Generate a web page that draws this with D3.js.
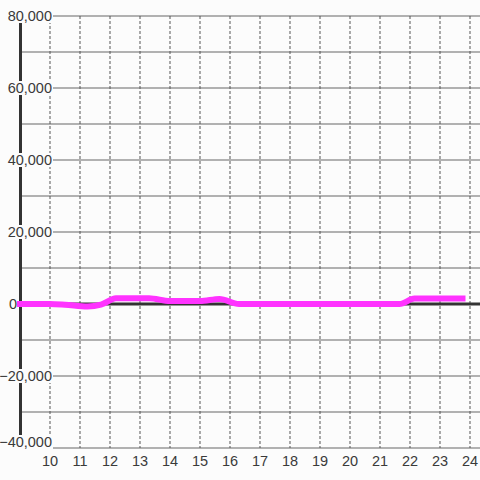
<!DOCTYPE html>
<html>
<head>
<meta charset="utf-8">
<script src="https://cdn.jsdelivr.net/npm/d3@7"></script>
<style>
  html, body { margin: 0; padding: 0; background: #fcfcfc; }
  svg { display: block; }
</style>
</head>
<body>
<svg id="chart" width="480" height="480"></svg>
<script>
// Data
const hours = [9, 10, 10.5, 11.25, 11.7, 12.2, 13.3, 14, 15, 15.65, 16.3, 21.65, 22.15, 23.75];
const values = [0, 0, -200, -700, -200, 1600, 1600, 800, 800, 1400, 0, 0, 1500, 1500];
const yTicks = [80000, 70000, 60000, 50000, 40000, 30000, 20000, 10000, 0, -10000, -20000, -30000, -40000];
const yLabels = [80000, 60000, 40000, 20000, 0, -20000, -40000];
const xTicks = [10, 11, 12, 13, 14, 15, 16, 17, 18, 19, 20, 21, 22, 23, 24];

const width = 480;
const height = 480;
const bg = '#fcfcfc';

const svg = d3.select('#chart');

// Scales
const x = d3.scaleLinear().domain([9, 24]).range([20, 470]);
const y = d3.scaleLinear().domain([-40000, 80000]).range([448, 16]);

// Horizontal grid lines
svg.append('g')
    .selectAll('line')
    .data(yTicks.filter(d => d !== 0))
    .join('line')
    .attr('x1', x(9))
    .attr('x2', width)
    .attr('y1', d => y(d))
    .attr('y2', d => y(d))
    .attr('stroke', '#666')
    .attr('stroke-width', 1.2);

// Vertical dashed grid lines
svg.append('g')
    .selectAll('line')
    .data(xTicks)
    .join('line')
    .attr('x1', d => x(d))
    .attr('x2', d => x(d))
    .attr('y1', y(80000))
    .attr('y2', y(-40000))
    .attr('stroke', '#555')
    .attr('stroke-width', 1)
    .attr('stroke-dasharray', '3,2');

// Zero line
svg.append('line')
    .attr('x1', x(9))
    .attr('x2', width)
    .attr('y1', y(0))
    .attr('y2', y(0))
    .attr('stroke', '#333')
    .attr('stroke-width', 3);

// Left axis bar
svg.append('line')
    .attr('x1', x(9) + 0.5)
    .attr('x2', x(9) + 0.5)
    .attr('y1', y(80000))
    .attr('y2', y(-40000))
    .attr('stroke', '#333')
    .attr('stroke-width', 3);

// Y labels with a background box that hides the lines behind them
const labelY = d => Math.min(y(d), 442);
const labelX = d => d === 0 ? 17 : 52;

const yl = svg.append('g')
    .selectAll('g')
    .data(yLabels)
    .join('g')
    .attr('transform', d => `translate(${labelX(d)},${labelY(d)})`);

yl.filter(d => d !== 0)
    .append('rect')
    .attr('x', -50)
    .attr('y', -7)
    .attr('width', 51)
    .attr('height', 14)
    .attr('fill', bg);

yl.append('text')
    .attr('text-anchor', 'end')
    .attr('dy', '0.36em')
    .style('font-family', '"Liberation Sans", Arial, sans-serif')
    .style('font-size', '14.5px')
    .style('fill', '#3a3a3a')
    .text(d => d3.format(',')(d));

// X labels
svg.append('g')
    .selectAll('text')
    .data(xTicks)
    .join('text')
    .attr('x', d => x(d))
    .attr('y', 466)
    .attr('text-anchor', 'middle')
    .style('font-family', '"Liberation Sans", Arial, sans-serif')
    .style('font-size', '14.5px')
    .style('fill', '#3a3a3a')
    .text(d => d);

// Series line
const line = d3.line()
    .x((d, i) => x(hours[i]))
    .y(d => y(d))
    .curve(d3.curveMonotoneX);

svg.append('path')
    .datum(values)
    .attr('d', line)
    .attr('fill', 'none')
    .attr('stroke', '#ff33ff')
    .attr('stroke-width', 6)
    .attr('stroke-linecap', 'square')
    .attr('stroke-linejoin', 'round');
</script>
</body>
</html>
